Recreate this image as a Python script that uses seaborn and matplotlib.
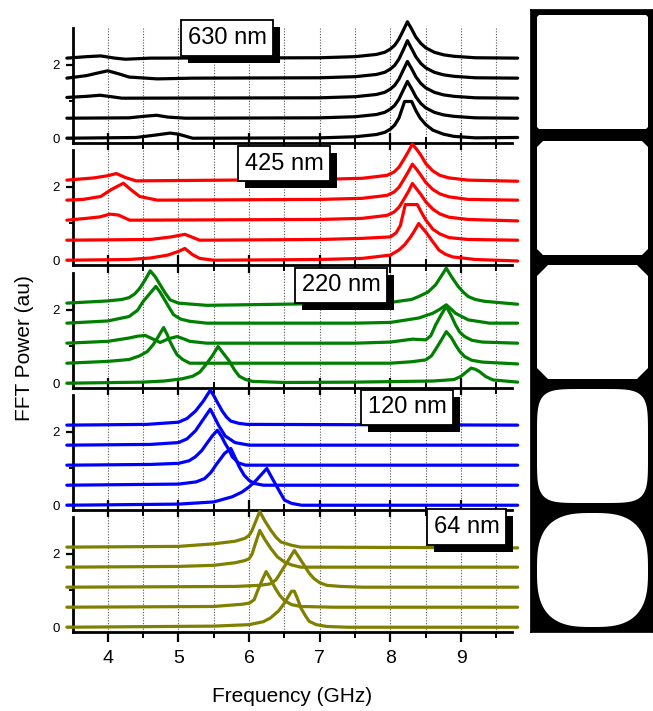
import numpy as np
import matplotlib
matplotlib.use("Agg")
import matplotlib.pyplot as plt
from matplotlib.patches import Polygon, Rectangle
import seaborn as sns

# FFT spectra, bottom trace first in each panel
# frequency in GHz, power normalised (relative to trace baseline)
offsets = [0.0, 0.545, 1.09, 1.635, 2.18]

f630 = [
    [3.42, 4.4, 4.65, 4.88, 5.0, 5.2, 7.0, 7.5, 7.8, 7.92, 8.0, 8.06, 8.12, 8.2, 8.3, 8.36, 8.42, 8.5, 8.6, 8.75, 8.9, 9.2, 9.8],
    [3.42, 4.3, 4.5, 4.69, 4.85, 5.1, 7.0, 7.5, 7.8, 7.92, 8.0, 8.06, 8.12, 8.18, 8.24, 8.3, 8.36, 8.43, 8.5, 8.62, 8.75, 8.9, 9.2, 9.8],
    [3.42, 3.7, 3.89, 4.05, 4.2, 7.0, 7.5, 7.8, 7.92, 8.0, 8.06, 8.12, 8.18, 8.24, 8.3, 8.36, 8.43, 8.5, 8.62, 8.75, 8.9, 9.2, 9.8],
    [3.42, 3.7, 3.88, 4.0, 4.15, 4.3, 4.7, 5.2, 7.0, 7.5, 7.8, 7.92, 8.0, 8.06, 8.12, 8.18, 8.24, 8.3, 8.36, 8.43, 8.5, 8.62, 8.75, 8.9, 9.2, 9.8],
    [3.42, 3.7, 3.9, 4.1, 4.25, 4.6, 7.0, 7.5, 7.8, 7.92, 8.0, 8.06, 8.12, 8.18, 8.24, 8.3, 8.36, 8.43, 8.5, 8.62, 8.75, 8.9, 9.2, 9.8],
]
p630 = [
    [0.0, 0.02, 0.08, 0.14, 0.11, 0.0, 0.01, 0.04, 0.1, 0.16, 0.25, 0.36, 0.55, 1.0, 1.0, 0.75, 0.55, 0.37, 0.22, 0.11, 0.05, 0.01, 0.02],
    [0.0, 0.01, 0.05, 0.08, 0.03, 0.0, 0.01, 0.04, 0.1, 0.16, 0.25, 0.35, 0.52, 0.76, 1.0, 0.8, 0.58, 0.4, 0.28, 0.16, 0.09, 0.05, 0.01, 0.0],
    [0.02, 0.05, 0.08, 0.04, 0.0, 0.01, 0.04, 0.1, 0.16, 0.25, 0.35, 0.52, 0.76, 1.0, 0.8, 0.58, 0.4, 0.28, 0.16, 0.09, 0.05, 0.01, 0.0],
    [0.0, 0.07, 0.15, 0.2, 0.12, 0.03, -0.02, 0.0, 0.01, 0.04, 0.1, 0.16, 0.25, 0.35, 0.52, 0.76, 1.02, 0.8, 0.58, 0.4, 0.28, 0.16, 0.09, 0.05, 0.01, 0.0],
    [0.0, 0.04, 0.06, 0.0, -0.03, 0.0, 0.01, 0.04, 0.1, 0.16, 0.25, 0.35, 0.52, 0.75, 0.99, 0.79, 0.57, 0.4, 0.28, 0.16, 0.09, 0.05, 0.01, 0.0],
]

f425 = [
    [3.42, 4.3, 4.6, 4.85, 5.0, 5.09, 5.2, 5.3, 5.5, 7.0, 7.6, 8.0, 8.12, 8.2, 8.28, 8.34, 8.4, 8.45, 8.5, 8.6, 8.69, 8.78, 8.88, 9.2, 9.8],
    [3.42, 4.6, 4.9, 5.09, 5.3, 7.0, 7.6, 8.0, 8.08, 8.14, 8.21, 8.38, 8.44, 8.5, 8.6, 8.7, 8.83, 9.1, 9.8],
    [3.42, 3.7, 3.89, 4.03, 4.15, 4.31, 7.0, 7.6, 7.95, 8.05, 8.12, 8.2, 8.26, 8.31, 8.37, 8.43, 8.5, 8.6, 8.7, 8.83, 9.1, 9.8],
    [3.42, 3.65, 3.9, 4.05, 4.22, 4.33, 4.45, 4.7, 7.0, 7.6, 7.95, 8.05, 8.12, 8.2, 8.26, 8.31, 8.37, 8.43, 8.5, 8.6, 8.7, 8.83, 9.1, 9.8],
    [3.42, 3.8, 4.0, 4.12, 4.25, 4.4, 7.0, 7.6, 7.95, 8.05, 8.12, 8.2, 8.26, 8.31, 8.37, 8.43, 8.5, 8.6, 8.7, 8.83, 9.1, 9.8],
]
p425 = [
    [0.0, 0.02, 0.06, 0.14, 0.24, 0.32, 0.15, 0.05, 0.0, 0.02, 0.05, 0.14, 0.28, 0.42, 0.62, 0.8, 1.0, 0.88, 0.77, 0.5, 0.27, 0.16, 0.09, 0.02, -0.02],
    [0.0, 0.02, 0.09, 0.16, 0.0, 0.02, 0.05, 0.09, 0.2, 0.4, 0.97, 0.97, 0.75, 0.55, 0.3, 0.17, 0.07, 0.02, 0.0],
    [0.0, 0.05, 0.09, 0.165, 0.14, 0.0, 0.02, 0.05, 0.13, 0.22, 0.35, 0.6, 0.8, 1.0, 0.85, 0.7, 0.5, 0.3, 0.17, 0.08, 0.02, -0.02],
    [0.0, 0.02, 0.1, 0.29, 0.46, 0.28, 0.1, 0.0, 0.02, 0.05, 0.13, 0.22, 0.35, 0.6, 0.8, 0.98, 0.84, 0.68, 0.48, 0.29, 0.17, 0.09, 0.02, 0.0],
    [0.0, 0.06, 0.12, 0.18, 0.07, -0.02, 0.02, 0.05, 0.13, 0.22, 0.35, 0.6, 0.8, 0.98, 0.84, 0.68, 0.45, 0.25, 0.13, 0.06, 0.0, -0.03],
]

f220 = [
    [3.42, 4.5, 4.8, 5.05, 5.2, 5.3, 5.39, 5.48, 5.56, 5.64, 5.72, 5.79, 5.86, 5.95, 6.05, 6.5, 7.5, 8.6, 8.9, 9.0, 9.07, 9.14, 9.2, 9.25, 9.35, 9.45, 9.8],
    [3.42, 4.0, 4.3, 4.45, 4.56, 4.64, 4.7, 4.79, 4.84, 4.88, 4.93, 4.98, 5.06, 5.16, 7.5, 8.0, 8.3, 8.5, 8.58, 8.65, 8.72, 8.79, 8.86, 8.92, 8.98, 9.05, 9.15, 9.3, 9.8],
    [3.42, 4.0, 4.3, 4.42, 4.53, 4.63, 4.74, 4.86, 4.98, 5.07, 5.16, 5.4, 7.5, 8.0, 8.31, 8.5, 8.57, 8.64, 8.72, 8.79, 8.86, 8.92, 8.98, 9.05, 9.15, 9.3, 9.8],
    [3.42, 4.0, 4.3, 4.42, 4.5, 4.6, 4.68, 4.74, 4.79, 4.86, 4.93, 5.03, 5.16, 5.4, 7.5, 8.0, 8.4, 8.6, 8.7, 8.79, 8.86, 8.92, 9.1, 9.4, 9.8],
    [3.42, 4.0, 4.2, 4.3, 4.38, 4.45, 4.53, 4.6, 4.67, 4.74, 4.81, 4.88, 5.0, 5.4, 7.5, 8.0, 8.3, 8.4, 8.53, 8.64, 8.72, 8.79, 8.87, 8.96, 9.03, 9.1, 9.2, 9.33, 9.8],
]
p220 = [
    [0.0, 0.03, 0.06, 0.12, 0.19, 0.3, 0.51, 0.75, 1.0, 0.8, 0.6, 0.37, 0.19, 0.1, 0.05, 0.02, 0.03, 0.06, 0.1, 0.19, 0.3, 0.41, 0.38, 0.33, 0.18, 0.09, 0.03],
    [0.0, 0.05, 0.1, 0.2, 0.32, 0.5, 0.68, 0.97, 0.78, 0.59, 0.4, 0.23, 0.1, 0.0, 0.0, 0.0, 0.04, 0.09, 0.2, 0.41, 0.63, 0.86, 0.7, 0.5, 0.32, 0.18, 0.08, 0.03, -0.02],
    [0.0, 0.05, 0.14, 0.19, 0.21, 0.12, 0.02, 0.12, 0.18, 0.12, 0.05, 0.0, 0.0, 0.03, 0.11, 0.09, 0.2, 0.5, 0.78, 1.0, 0.75, 0.5, 0.3, 0.18, 0.08, 0.03, 0.0],
    [0.0, 0.06, 0.18, 0.35, 0.59, 0.82, 1.0, 0.84, 0.68, 0.45, 0.23, 0.11, 0.05, 0.0, 0.0, 0.02, 0.14, 0.27, 0.38, 0.5, 0.38, 0.27, 0.09, 0.0, 0.0],
    [0.0, 0.06, 0.1, 0.15, 0.25, 0.4, 0.64, 0.88, 0.72, 0.5, 0.28, 0.09, 0.0, -0.06, 0.0, 0.02, 0.1, 0.18, 0.3, 0.5, 0.74, 0.95, 0.7, 0.45, 0.3, 0.18, 0.1, 0.05, -0.03],
]

f120 = [
    [3.42, 5.0, 5.5, 5.76, 5.9, 6.0, 6.1, 6.18, 6.25, 6.33, 6.42, 6.5, 6.6, 6.74, 9.8],
    [3.42, 5.0, 5.25, 5.37, 5.46, 5.53, 5.65, 5.74, 5.79, 5.86, 5.93, 6.0, 6.07, 6.2, 9.8],
    [3.42, 4.6, 5.0, 5.15, 5.24, 5.33, 5.4, 5.48, 5.55, 5.61, 5.66, 5.72, 5.76, 5.85, 5.95, 9.8],
    [3.42, 4.6, 5.0, 5.12, 5.24, 5.35, 5.45, 5.52, 5.57, 5.66, 5.8, 6.0, 9.8],
    [3.42, 4.55, 5.0, 5.12, 5.24, 5.35, 5.45, 5.5, 5.55, 5.62, 5.68, 5.74, 5.85, 5.97, 9.8],
]
p120 = [
    [0.0, 0.03, 0.09, 0.23, 0.36, 0.5, 0.68, 0.85, 1.0, 0.72, 0.41, 0.14, 0.05, 0.0, 0.0],
    [0.0, 0.03, 0.09, 0.18, 0.35, 0.55, 0.86, 1.0, 0.8, 0.5, 0.27, 0.13, 0.05, 0.0, 0.0],
    [0.0, 0.02, 0.05, 0.12, 0.23, 0.4, 0.59, 0.8, 0.95, 0.78, 0.59, 0.4, 0.23, 0.06, 0.0, 0.0],
    [0.0, 0.02, 0.07, 0.17, 0.39, 0.7, 0.98, 0.72, 0.53, 0.25, 0.07, 0.0, 0.0],
    [0.0, 0.02, 0.08, 0.18, 0.38, 0.65, 0.95, 0.8, 0.62, 0.38, 0.22, 0.11, 0.05, 0.02, 0.0],
]

f64 = [
    [3.42, 5.5, 6.0, 6.2, 6.3, 6.42, 6.5, 6.6, 6.64, 6.69, 6.73, 6.8, 6.85, 6.95, 7.1, 7.4, 9.8],
    [3.42, 5.5, 5.9, 6.0, 6.07, 6.12, 6.18, 6.24, 6.3, 6.36, 6.43, 6.5, 6.6, 6.73, 7.2, 9.8],
    [3.42, 5.8, 6.15, 6.3, 6.38, 6.45, 6.55, 6.64, 6.71, 6.78, 6.85, 6.92, 7.0, 7.1, 7.3, 7.6, 9.8],
    [3.42, 5.0, 5.5, 5.8, 5.94, 6.0, 6.04, 6.08, 6.15, 6.22, 6.31, 6.4, 6.5, 6.6, 6.73, 9.8],
    [3.42, 5.0, 5.5, 5.8, 5.94, 6.0, 6.04, 6.08, 6.15, 6.22, 6.31, 6.38, 6.45, 6.6, 6.73, 9.8],
]
p64 = [
    [0.0, 0.03, 0.07, 0.15, 0.25, 0.45, 0.66, 0.98, 0.98, 0.75, 0.53, 0.3, 0.16, 0.07, 0.02, 0.0, 0.0],
    [0.0, 0.02, 0.08, 0.11, 0.2, 0.45, 0.72, 0.97, 0.78, 0.55, 0.33, 0.18, 0.07, 0.02, 0.0, 0.0],
    [0.0, 0.02, 0.05, 0.09, 0.2, 0.41, 0.72, 1.0, 0.8, 0.59, 0.38, 0.23, 0.12, 0.05, 0.02, 0.0, 0.0],
    [0.0, 0.02, 0.05, 0.12, 0.18, 0.23, 0.35, 0.59, 1.0, 0.76, 0.5, 0.28, 0.14, 0.06, 0.0, 0.0],
    [0.0, 0.02, 0.09, 0.16, 0.24, 0.32, 0.45, 0.64, 0.97, 0.72, 0.45, 0.27, 0.14, 0.05, 0.0, -0.02],
]

panel_labels = ["630 nm", "425 nm", "220 nm", "120 nm", "64 nm"]
panel_freqs = [f630, f425, f220, f120, f64]
panel_power = [p630, p425, p220, p120, p64]
colors = ["black", "#ff0000", "#007f00", "#0000ff", "#808000"]
label_pos = [(5.69, 2.73), (6.5, 2.63), (7.30, 2.67), (8.24, 2.67), (9.08, 2.73)]

sns.set_theme(style="white")
plt.rcParams["font.family"] = ["Liberation Sans", "DejaVu Sans"]
plt.rcParams["text.color"] = "black"

W, H = 653, 711
fig = plt.figure(figsize=(W / 100, H / 100), dpi=100)
fig.patch.set_facecolor("white")

left, right = 72.5, 512
tops = [28, 150, 273, 395, 517]
ph = 115

axes, boxes = [], []
for i in range(5):
    last = (i == 4)
    ax = fig.add_axes([left / W, 1 - (tops[i] + ph) / H, (right - left) / W, ph / H])
    ax.set_facecolor("white")
    for k in range(5):
        y = np.array(panel_power[i][k]) + offsets[k]
        sns.lineplot(x=panel_freqs[i][k], y=y, ax=ax, color=colors[i], lw=2.3,
                     sort=False, estimator=None, clip_on=False, zorder=3)
    ax.set_xlim(3.5, 9.72)
    ax.set_ylim(-0.13, 3.0)
    ax.set_xticks(np.arange(4, 10, 1))
    ax.set_xticks(np.arange(4.5, 10, 1), minor=True)
    ax.set_yticks([0, 2])
    ax.set_yticks([1], minor=True)
    ax.grid(True, which="both", axis="x", ls=(0, (1, 1.5)), color="#555555", lw=0.8, zorder=0)
    ax.grid(False, axis="y")
    for s in ["top", "right"]:
        ax.spines[s].set_visible(False)
    for s in ["left", "bottom"]:
        ax.spines[s].set_linewidth(2.0)
        ax.spines[s].set_color("black")
    ax.tick_params(axis="x", which="major", direction="out" if last else "inout",
                   length=7 if last else 14, width=1.6, color="black", labelcolor="black",
                   labelsize=14, pad=6, bottom=True, labelbottom=last)
    ax.tick_params(axis="x", which="minor", direction="out" if last else "inout",
                   length=4 if last else 8, width=1.4, color="black", bottom=True)
    ax.tick_params(axis="y", which="major", direction="out", length=5, width=1.6,
                   color="black", labelcolor="black", labelsize=9.5, pad=4, left=True)
    ax.tick_params(axis="y", which="minor", direction="out", length=3, width=1.4,
                   color="black", left=True)
    ax.set_xlabel("")
    ax.set_ylabel("")

    lx, ly = label_pos[i]
    t = ax.text(lx, ly, panel_labels[i], fontsize=17, ha="center", va="center",
                color="black", clip_on=False, zorder=6,
                bbox=dict(boxstyle="square,pad=0.28", fc="white", ec="black", lw=1.3))
    axes.append(ax)
    boxes.append(t)

fig.text(292 / W, 1 - 702 / H, "Frequency (GHz)", fontsize=15, ha="center", va="baseline",
         color="black")
fig.text(25 / W, 1 - 348 / H, "FFT Power (au)", fontsize=15, ha="center", va="center",
         rotation=90, color="black")

# drop shadows behind the size labels
fig.canvas.draw()
for ax, t in zip(axes, boxes):
    bb = t.get_bbox_patch().get_window_extent()
    ax.add_patch(Rectangle((bb.x0 + 7, bb.y0 - 7), bb.width, bb.height, transform=None,
                           fc="black", ec="none", clip_on=False, zorder=5))

# dot shapes on the right (white on black)
axi = fig.add_axes([531 / W, 1 - 632 / H, (W - 531) / W, 622 / H])
axi.set_facecolor("black")
axi.set_xlim(531, W)
axi.set_ylim(632, 10)
axi.set_xticks([])
axi.set_yticks([])
for s in axi.spines.values():
    s.set_color("black")

cy_list = [72, 198, 322, 446, 570]
cx, hw, hh = 592.5, 55.5, 57


def chamfer(cx, cy, hw, hh, c):
    return [(cx - hw + c, cy - hh), (cx + hw - c, cy - hh), (cx + hw, cy - hh + c),
            (cx + hw, cy + hh - c), (cx + hw - c, cy + hh), (cx - hw + c, cy + hh),
            (cx - hw, cy + hh - c), (cx - hw, cy - hh + c)]


def superellipse(cx, cy, hw, hh, n):
    t = np.linspace(0, 2 * np.pi, 240)
    c, s = np.cos(t), np.sin(t)
    x = cx + hw * np.sign(c) * np.abs(c) ** (2 / n)
    y = cy + hh * np.sign(s) * np.abs(s) ** (2 / n)
    return np.column_stack([x, y])


shapes = [chamfer(cx, cy_list[0], hw, hh, 2),
          chamfer(cx, cy_list[1], hw, hh, 6),
          chamfer(cx, cy_list[2], hw, hh, 11),
          superellipse(cx, cy_list[3], hw, hh, 5.5),
          superellipse(cx, cy_list[4], hw, hh, 2.9)]
for verts in shapes:
    axi.add_patch(Polygon(verts, closed=True, fc="white", ec="none"))

fig.savefig("out.png", dpi=100, facecolor="white")
